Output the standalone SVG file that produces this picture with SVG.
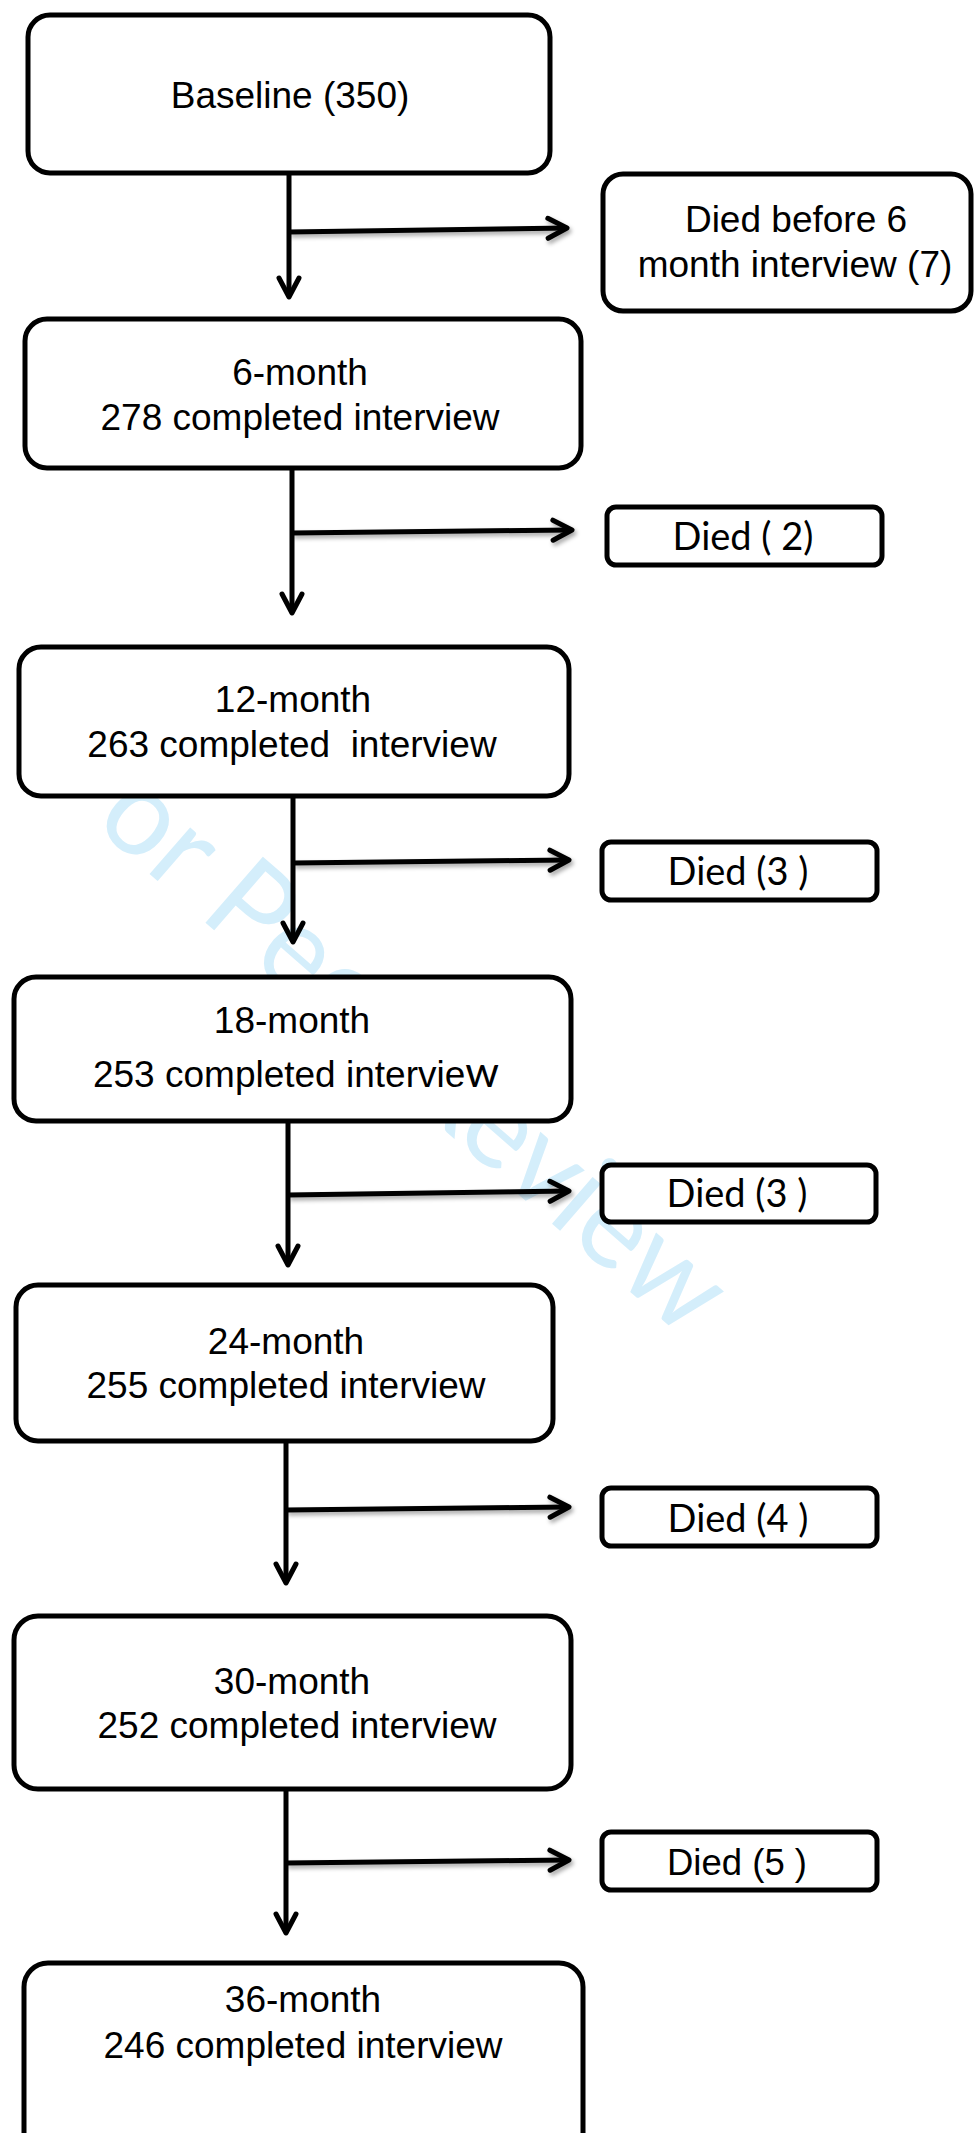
<svg xmlns="http://www.w3.org/2000/svg" width="975" height="2133" viewBox="0 0 975 2133">
  <style>
    .box { fill: #ffffff; stroke: #000000; stroke-width: 5; }
    .t { font-family: "Liberation Sans", Arial, sans-serif; font-size: 37px; fill: #000000; text-anchor: middle; }
    .c { font-family: Lato, "Open Sans", sans-serif; font-size: 38px; fill: #000000; text-anchor: middle; }
    .conn { fill: none; stroke: #000000; stroke-width: 5; stroke-linecap: butt; }
    .wm { font-family: Lato, "Open Sans", sans-serif; font-size: 122px; fill: #d4eefb; }
  </style>
  <defs>
    <marker id="chev" viewBox="-24 -14 30 28" refX="0" refY="0" markerWidth="30" markerHeight="28" markerUnits="userSpaceOnUse" orient="auto">
      <path d="M-19,-10 L0,0 L-19,10" fill="none" stroke="#000000" stroke-width="5" stroke-linecap="round" stroke-linejoin="round"/>
    </marker>
    <filter id="sh" filterUnits="userSpaceOnUse" x="0" y="0" width="975" height="2133">
      <feDropShadow dx="2" dy="3" stdDeviation="2" flood-color="#000000" flood-opacity="0.35"/>
    </filter>
  </defs>
  <rect width="975" height="2133" fill="#ffffff"/>

  <text class="wm" transform="translate(45,783) rotate(41)" textLength="848" lengthAdjust="spacingAndGlyphs">For Peer Review</text>

  <g id="connectors">
    <path class="conn" d="M289,173 L289,297" marker-end="url(#chev)"/>
    <path class="conn" filter="url(#sh)" d="M289,232 L567,228" marker-end="url(#chev)"/>
    <path class="conn" d="M292,468 L292,613" marker-end="url(#chev)"/>
    <path class="conn" filter="url(#sh)" d="M292,533 L572,530" marker-end="url(#chev)"/>
    <path class="conn" d="M293,797 L293,942" marker-end="url(#chev)"/>
    <path class="conn" filter="url(#sh)" d="M293,863 L569,860" marker-end="url(#chev)"/>
    <path class="conn" d="M288,1122 L288,1265" marker-end="url(#chev)"/>
    <path class="conn" filter="url(#sh)" d="M288,1195 L569,1191" marker-end="url(#chev)"/>
    <path class="conn" d="M286,1442 L286,1583" marker-end="url(#chev)"/>
    <path class="conn" filter="url(#sh)" d="M286,1510 L569,1507" marker-end="url(#chev)"/>
    <path class="conn" d="M286,1790 L286,1933" marker-end="url(#chev)"/>
    <path class="conn" filter="url(#sh)" d="M286,1863 L569,1860" marker-end="url(#chev)"/>
  </g>

  <g id="baseline">
    <rect class="box" x="28" y="15" width="522" height="158" rx="22"/>
    <text class="t" x="290" y="108">Baseline (350)</text>
  </g>
  <g id="died-before-6">
    <rect class="box" x="603" y="174" width="368" height="137" rx="20"/>
    <text class="t" x="796" y="232">Died before 6</text>
    <text class="t" x="795" y="277">month interview (7)</text>
  </g>
  <g id="m6">
    <rect class="box" x="25" y="319" width="556" height="149" rx="22"/>
    <text class="t" x="300" y="385">6-month</text>
    <text class="t" x="300" y="430">278 completed interview</text>
  </g>
  <g id="died-2">
    <rect class="box" x="607" y="507" width="275" height="58" rx="9"/>
    <text class="c" x="743" y="550">Died ( 2)</text>
  </g>
  <g id="m12">
    <rect class="box" x="19" y="647" width="550" height="149" rx="22"/>
    <text class="t" x="293" y="712">12-month</text>
    <text class="t" x="292" y="757" xml:space="preserve">263 completed  interview</text>
  </g>
  <g id="died-3a">
    <rect class="box" x="602" y="842" width="275" height="58" rx="9"/>
    <text class="c" x="738" y="885">Died (3 )</text>
  </g>
  <g id="m18">
    <rect class="box" x="14" y="977" width="557" height="144" rx="22"/>
    <text class="t" x="292" y="1033">18-month</text>
    <text class="t" x="296" y="1087">253 completed intervie<tspan style="font-family: Lato, 'Open Sans', sans-serif; font-size: 43px;">w</tspan></text>
  </g>
  <g id="died-3b">
    <rect class="box" x="602" y="1165" width="274" height="57" rx="9"/>
    <text class="c" x="737" y="1207">Died (3 )</text>
  </g>
  <g id="m24">
    <rect class="box" x="16" y="1285" width="537" height="156" rx="22"/>
    <text class="t" x="286" y="1354">24-month</text>
    <text class="t" x="286" y="1398">255 completed interview</text>
  </g>
  <g id="died-4">
    <rect class="box" x="602" y="1488" width="275" height="58" rx="9"/>
    <text class="c" x="738" y="1532">Died (4 )</text>
  </g>
  <g id="m30">
    <rect class="box" x="14" y="1616" width="557" height="173" rx="24"/>
    <text class="t" x="292" y="1694">30-month</text>
    <text class="t" x="297" y="1738">252 completed interview</text>
  </g>
  <g id="died-5">
    <rect class="box" x="602" y="1832" width="275" height="58" rx="9"/>
    <text class="t" x="737" y="1875" style="font-size: 36.5px;">Died (5 )</text>
  </g>
  <g id="m36">
    <rect class="box" x="24" y="1963" width="559" height="200" rx="24"/>
    <text class="t" x="303" y="2012">36-month</text>
    <text class="t" x="303" y="2058">246 completed interview</text>
  </g>
</svg>
